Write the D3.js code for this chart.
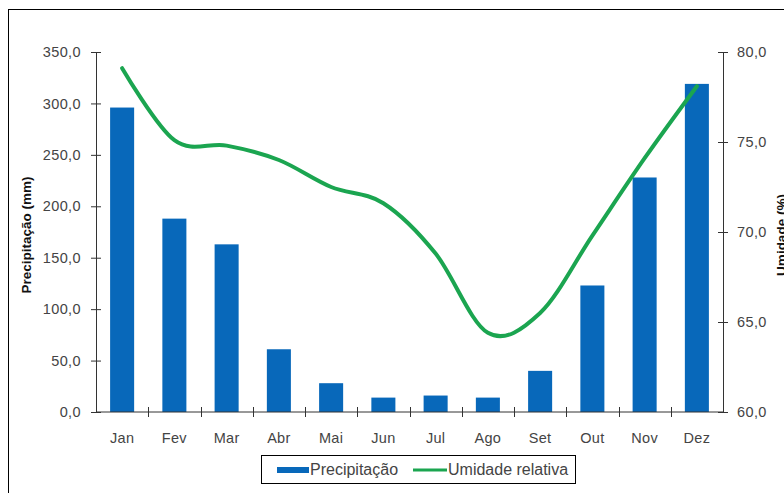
<!DOCTYPE html>
<html>
<head>
<meta charset="utf-8">
<script src="https://cdn.jsdelivr.net/npm/d3@7"></script>
<style>
  html, body { margin: 0; padding: 0; background: #fff; overflow: hidden; }
  svg { display: block; font-family: "Liberation Sans", Arial, sans-serif; }
</style>
</head>
<body>
<svg id="chart" width="784" height="493"></svg>
<script>
// Monthly climate normals: precipitation (bars) and relative humidity (line)
const months = ["Jan", "Fev", "Mar", "Abr", "Mai", "Jun", "Jul", "Ago", "Set", "Out", "Nov", "Dez"];
const precipitation = [296, 188, 163, 61, 28, 14, 16, 14, 40, 123, 228, 319];
const humidity = [79.1, 75.1, 74.8, 74.0, 72.5, 71.6, 68.8, 64.4, 65.5, 69.8, 74.1, 78.1];
const precipTicks = [0, 50, 100, 150, 200, 250, 300, 350];
const humidityTicks = [60, 65, 70, 75, 80];

const svg = d3.select("#chart");
const plot = { left: 96, right: 723, top: 52, bottom: 412 };
const textColor = "#444";
const axisColor = "#333";
const barColor = "#0868BA";
const lineColor = "#1BA550";
const fmt = v => d3.format(".1f")(v).replace(".", ",");

// outer frame of the chart object
svg.append("rect")
  .attr("x", 8.5).attr("y", 9.5)
  .attr("width", 800).attr("height", 500)
  .attr("fill", "#fff").attr("stroke", "#000").attr("stroke-width", 1);

const xBand = d3.scaleBand().domain(months).range([plot.left, plot.right]);
const yL = d3.scaleLinear().domain([0, 350]).range([plot.bottom, plot.top]);
const yR = d3.scaleLinear().domain([60, 80]).range([plot.bottom, plot.top]);

// bars
svg.append("g").selectAll("rect")
  .data(months.map((m, i) => ({ m, v: precipitation[i] })))
  .join("rect")
  .attr("x", d => xBand(d.m) + xBand.bandwidth() * 0.27)
  .attr("width", xBand.bandwidth() * 0.46)
  .attr("y", d => yL(d.v))
  .attr("height", d => yL(0) - yL(d.v))
  .attr("fill", barColor);

// left axis
const gL = svg.append("g").attr("transform", `translate(${plot.left},0)`)
  .call(d3.axisLeft(yL).tickValues(precipTicks).tickFormat(fmt).tickSizeInner(5).tickSizeOuter(0).tickPadding(10));
gL.selectAll(".tick line").attr("x1", 5).attr("x2", -5);
// right axis
const gR = svg.append("g").attr("transform", `translate(${plot.right},0)`)
  .call(d3.axisRight(yR).tickValues(humidityTicks).tickFormat(fmt).tickSizeInner(5).tickSizeOuter(0).tickPadding(9));
gR.selectAll(".tick line").attr("x1", -5).attr("x2", 5);
// bottom axis with ticks at category boundaries
const gB = svg.append("g").attr("transform", `translate(0,${plot.bottom})`);
gB.append("line").attr("x1", plot.left).attr("x2", plot.right).attr("stroke", axisColor);
gB.selectAll("line.tk").data(months.slice(1)).join("line").attr("class", "tk")
  .attr("x1", d => Math.round(xBand(d)) + 0.5).attr("x2", d => Math.round(xBand(d)) + 0.5)
  .attr("y1", -5).attr("y2", 5).attr("stroke", axisColor);
gB.selectAll("text").data(months).join("text")
  .attr("x", d => xBand(d) + xBand.bandwidth() / 2)
  .attr("y", 31)
  .attr("text-anchor", "middle")
  .attr("font-size", 14.5).attr("letter-spacing", 0.3).attr("fill", textColor)
  .text(d => d);

[gL, gR].forEach(g => {
  g.select(".domain").attr("stroke", axisColor);
  g.selectAll(".tick line").attr("stroke", axisColor);
  g.selectAll(".tick text").attr("font-size", 14.5).attr("letter-spacing", 0.4).attr("fill", textColor)
    .attr("font-family", "Liberation Sans, Arial, sans-serif");
});

// humidity line
const line = d3.line()
  .x((d, i) => xBand(months[i]) + xBand.bandwidth() / 2)
  .y(d => yR(d))
  .curve(d3.curveCardinal.tension(0));
svg.append("path").datum(humidity)
  .attr("d", line)
  .attr("fill", "none").attr("stroke", lineColor)
  .attr("stroke-width", 4).attr("stroke-linecap", "round").attr("stroke-linejoin", "round");

// axis titles
svg.append("text")
  .attr("transform", `translate(31,${(plot.top + plot.bottom) / 2 + 3}) rotate(-90)`)
  .attr("text-anchor", "middle").attr("font-size", 13.5).attr("font-weight", "bold").attr("fill", "#111")
  .text("Precipitação (mm)");
svg.append("text")
  .attr("transform", `translate(786,${(plot.top + plot.bottom) / 2 + 3}) rotate(-90)`)
  .attr("text-anchor", "middle").attr("font-size", 13.5).attr("font-weight", "bold").attr("fill", "#111")
  .text("Umidade (%)");

// legend
const lg = svg.append("g").attr("transform", "translate(261,455)");
lg.append("rect").attr("x", 0.5).attr("y", 0.5).attr("width", 314).attr("height", 28)
  .attr("fill", "#fff").attr("stroke", "#000");
lg.append("rect").attr("x", 16).attr("y", 12).attr("width", 32).attr("height", 6).attr("fill", barColor);
lg.append("text").attr("x", 49).attr("y", 20).attr("font-size", 16).attr("fill", textColor).text("Precipitação");
lg.append("line").attr("x1", 152).attr("x2", 186).attr("y1", 15).attr("y2", 15)
  .attr("stroke", lineColor).attr("stroke-width", 3);
lg.append("text").attr("x", 187).attr("y", 20).attr("font-size", 16).attr("fill", textColor).text("Umidade relativa");
</script>
</body>
</html>
